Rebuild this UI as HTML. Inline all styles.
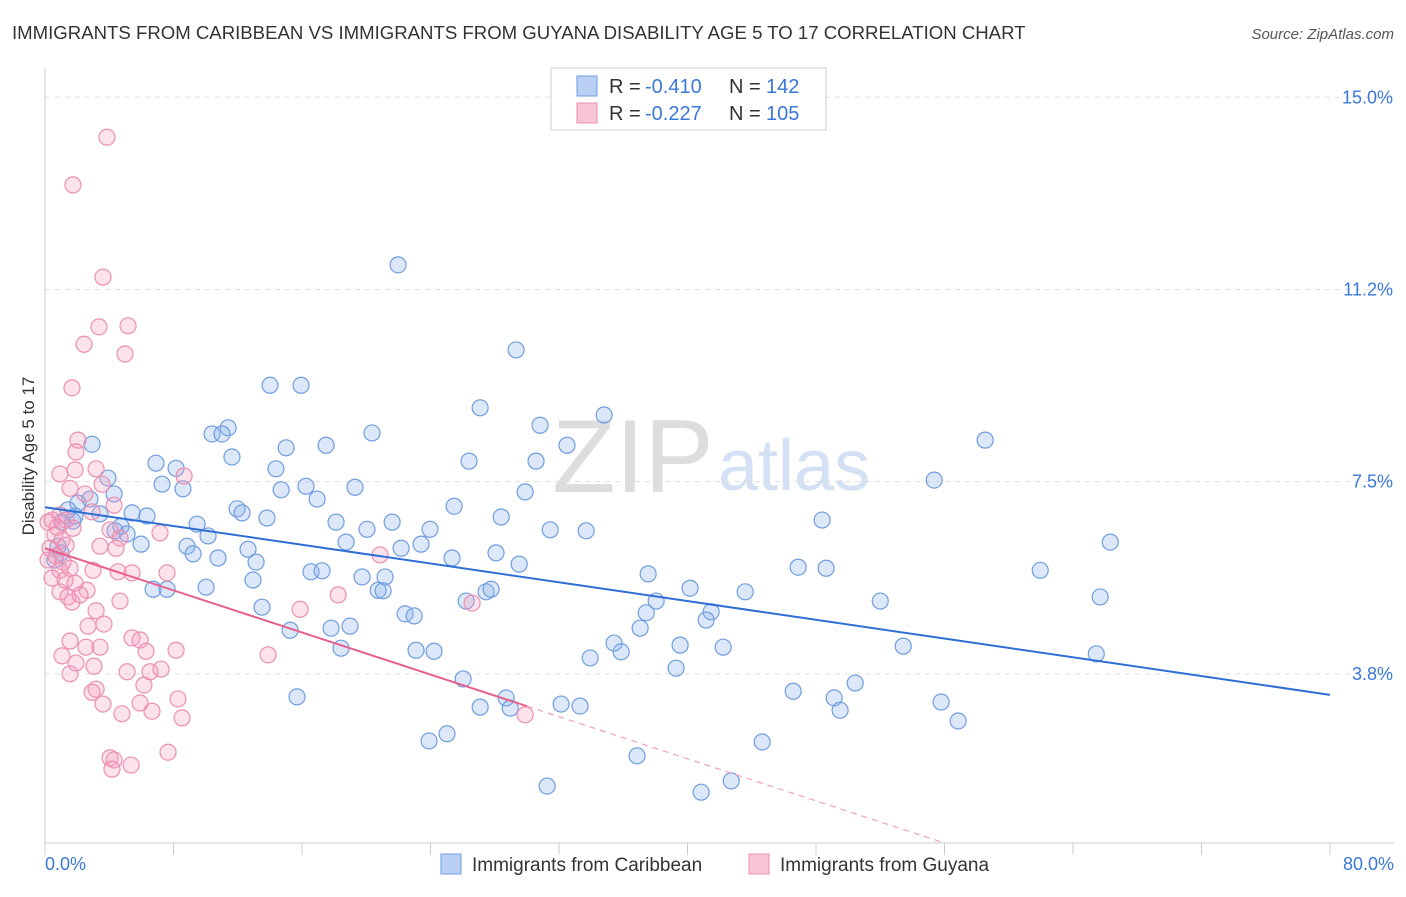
<!DOCTYPE html>
<html><head><meta charset="utf-8">
<style>
body{margin:0;background:#fff;font-family:"Liberation Sans",sans-serif;}
svg text{font-family:"Liberation Sans",sans-serif;}
</style></head>
<body>
<svg id="chart" width="1406" height="892" xmlns="http://www.w3.org/2000/svg">
<text x="12" y="39" font-size="18.6" fill="#333">IMMIGRANTS FROM CARIBBEAN VS IMMIGRANTS FROM GUYANA DISABILITY AGE 5 TO 17 CORRELATION CHART</text>
<text x="1394" y="39" font-size="15" fill="#555" text-anchor="end" font-style="italic">Source: ZipAtlas.com</text>
<g>
<text x="552" y="492" font-size="104" fill="#ddd" font-family="Liberation Serif">ZIP</text>
<text x="718" y="490" font-size="72" fill="#d4e0f3">atlas</text>
</g>
<g id="grid"></g>
<g id="axes"></g>
<g id="marks"></g>
<g>
<rect x="551" y="68" width="275" height="62" fill="#fff" stroke="#ccc"/>
<rect x="577" y="76" width="20" height="20" fill="#b9d0f3" stroke="#6f9de0"/>
<text x="609" y="93" font-size="20" fill="#333">R =</text>
<text x="645" y="93" font-size="20" fill="#3a78d8">-0.410</text>
<text x="729" y="93" font-size="20" fill="#333">N =</text>
<text x="766" y="93" font-size="20" fill="#3a78d8">142</text>
<rect x="577" y="103" width="20" height="20" fill="#f8c5d6" stroke="#ec8fb0"/>
<text x="609" y="120" font-size="20" fill="#333">R =</text>
<text x="645" y="120" font-size="20" fill="#3a78d8">-0.227</text>
<text x="729" y="120" font-size="20" fill="#333">N =</text>
<text x="766" y="120" font-size="20" fill="#3a78d8">105</text>
</g>
<g>
<rect x="441" y="854" width="20" height="20" fill="#b9d0f3" stroke="#6f9de0"/>
<text x="472" y="871" font-size="19" fill="#333">Immigrants from Caribbean</text>
<rect x="749" y="854" width="20" height="20" fill="#f8c5d6" stroke="#ec8fb0"/>
<text x="780" y="871" font-size="19" fill="#333">Immigrants from Guyana</text>
</g>
<text transform="translate(34,456) rotate(-90)" font-size="17" fill="#333" text-anchor="middle">Disability Age 5 to 17</text>
</svg>
<script>
const blueX=[21.98,29.33,14.01,15.94,27.09,34.81,11.40,10.40,11.02,20.36,30.82,2.93,15.01,17.50,32.50,11.64,6.91,26.40,30.57,8.16,14.38,7.29,8.59,16.25,19.30,3.92,4.30,2.80,14.70,16.94,29.89,58.53,55.36,11.96,12.27,25.47,6.35,2.05,3.42,5.42,1.74,9.47,13.82,28.40,18.12,21.61,48.38,23.97,4.73,5.11,31.45,33.69,20.05,4.36,5.98,10.15,18.74,22.17,23.41,66.32,8.84,9.22,12.64,13.14,10.77,25.34,28.08,29.52,1.00,0.81,46.89,48.63,61.96,16.56,17.25,37.55,19.74,21.17,12.95,10.03,6.73,7.60,20.74,21.05,27.46,27.77,40.16,43.59,65.69,26.22,38.05,52.00,13.51,22.42,22.98,37.43,41.47,41.16,15.26,17.81,18.99,37.05,35.43,39.54,42.22,53.43,18.43,23.10,24.22,35.87,33.94,39.29,65.45,15.69,26.03,46.58,50.44,49.13,28.71,28.96,27.09,32.13,33.31,49.50,55.79,56.85,25.03,23.91,44.65,36.86,31.26,42.72,40.85,1.87,1.06,1.43,0.62];
const blueY=[11.73,10.07,9.38,9.38,8.94,8.80,8.55,8.43,8.43,8.45,8.60,8.23,8.16,8.21,8.21,7.98,7.86,7.90,7.90,7.76,7.75,7.45,7.36,7.41,7.39,7.57,7.26,7.16,7.34,7.16,7.30,8.31,7.53,6.97,6.89,7.02,6.83,7.08,6.87,6.89,6.73,6.67,6.79,6.81,6.71,6.71,6.75,6.57,6.63,6.48,6.56,6.54,6.57,6.54,6.28,6.44,6.32,6.20,6.28,6.32,6.24,6.09,6.18,5.93,6.01,6.01,6.11,5.89,6.11,6.24,5.83,5.81,5.77,5.74,5.76,5.70,5.64,5.64,5.58,5.44,5.40,5.40,5.38,5.37,5.35,5.40,5.42,5.35,5.25,5.17,5.17,5.17,5.05,4.92,4.88,4.94,4.96,4.80,4.60,4.64,4.68,4.64,4.35,4.31,4.27,4.29,4.25,4.21,4.19,4.18,4.06,3.86,4.14,3.30,3.65,3.41,3.57,3.28,3.28,3.08,3.10,3.16,3.12,3.04,3.20,2.83,2.58,2.44,2.42,2.15,1.56,1.66,1.44,6.83,6.71,6.95,5.97];
const pinkX=[3.86,1.74,3.61,3.36,5.17,2.43,4.98,1.68,2.05,1.93,0.93,3.18,1.87,3.55,8.66,1.56,2.49,4.30,2.93,0.93,1.31,0.44,0.75,0.19,0.62,1.74,4.05,4.67,1.06,1.31,0.31,3.42,7.16,4.42,0.68,0.19,1.12,20.86,0.93,1.56,2.99,4.55,5.42,0.44,1.25,1.87,2.62,7.60,0.93,1.43,2.18,1.68,4.67,18.25,15.88,26.59,3.18,2.68,3.67,1.56,5.42,5.92,8.16,2.55,6.29,3.42,13.89,1.06,1.93,3.05,1.56,5.11,6.54,7.22,3.18,2.93,6.16,8.28,3.61,5.92,6.66,4.79,8.53,29.89,4.05,4.30,5.36,4.17,7.66];
const pinkY=[14.22,13.29,11.49,10.52,10.54,10.18,9.99,9.33,8.31,8.08,7.65,7.75,7.73,7.45,7.61,7.37,7.26,7.04,6.91,6.85,6.75,6.75,6.61,6.71,6.46,6.59,6.56,6.40,6.36,6.26,6.20,6.24,6.50,6.20,6.05,5.97,5.93,6.07,5.77,5.81,5.77,5.74,5.72,5.62,5.58,5.52,5.38,5.72,5.35,5.25,5.29,5.15,5.17,5.29,5.01,5.13,4.98,4.68,4.72,4.39,4.45,4.41,4.21,4.27,4.19,4.27,4.12,4.10,3.96,3.90,3.75,3.79,3.79,3.84,3.45,3.39,3.53,3.26,3.16,3.18,3.02,2.97,2.89,2.95,2.11,2.07,1.97,1.89,2.22];
const blueTrend=[7.00,3.34];   // y at x=0, x=80
const pinkTrend=[6.20,-0.1027]; // intercept, slope
const pinkSolidEnd=30.0, pinkDashEnd=56.0;
const yTicks=[15.0,11.25,7.5,3.75];
const yTickLabels=["15.0%","11.2%","7.5%","3.8%"];
const xTicks=[0,8,16,24,32,40,48,56,64,72,80];

const NS="http://www.w3.org/2000/svg";
const X=v=>45+v*16.0625;
const Y=v=>866-v*51.25;
function mk(tag,attrs,parent){const e=document.createElementNS(NS,tag);for(const k in attrs)e.setAttribute(k,attrs[k]);parent.appendChild(e);return e;}
const grid=document.getElementById('grid'),axes=document.getElementById('axes'),marks=document.getElementById('marks');
yTicks.forEach((t,i)=>{
 const l=mk('line',{x1:45,x2:1394,y1:Y(t),y2:Y(t),stroke:'#ddd','stroke-dasharray':'5,5'},grid);
 
 
 const tx=mk('text',{x:1393,y:Y(t)+6,'font-size':18,fill:'#3a78d8','text-anchor':'end'},axes);
 tx.textContent=yTickLabels[i];
 
 
});
mk('line',{x1:45,x2:45,y1:68,y2:843,stroke:'#ccc'},axes);
mk('line',{x1:45,x2:1394,y1:843,y2:843,stroke:'#ccc'},axes);
xTicks.forEach(t=>{
 const l=mk('line',{x1:X(t),x2:X(t),y1:843,y2:855,stroke:'#ccc'},axes);
 
 
});
const x0=mk('text',{x:45,y:870,'font-size':18,fill:'#3a78d8'},axes);x0.textContent="0.0%";


const x1=mk('text',{x:1394,y:870,'font-size':18,fill:'#3a78d8','text-anchor':'end'},axes);x1.textContent="80.0%";



blueX.forEach((v,i)=>{
 const c=mk('circle',{cx:X(v),cy:Y(blueY[i]),r:8,fill:'rgba(140,180,235,0.3)',stroke:'#6f9de0','stroke-width':1.2},marks);
 
 
});
pinkX.forEach((v,i)=>{
 const c=mk('circle',{cx:X(v),cy:Y(pinkY[i]),r:8,fill:'rgba(245,160,190,0.3)',stroke:'#ec8fb0','stroke-width':1.2},marks);
 
 
});
const bl=mk('line',{x1:X(0),y1:Y(blueTrend[0]),x2:X(80),y2:Y(blueTrend[1]),stroke:'#2e6fd6','stroke-width':2},marks);


const pl=mk('line',{x1:X(0),y1:Y(pinkTrend[0]),x2:X(pinkSolidEnd),y2:Y(pinkTrend[0]+pinkTrend[1]*pinkSolidEnd),stroke:'#e8608e','stroke-width':2},marks);


const pd=mk('line',{x1:X(pinkSolidEnd),y1:Y(pinkTrend[0]+pinkTrend[1]*pinkSolidEnd),x2:X(pinkDashEnd),y2:Y(pinkTrend[0]+pinkTrend[1]*pinkDashEnd),stroke:'#f0a0bc','stroke-width':1.2,'stroke-dasharray':'6,5'},marks);


</script>
</body></html>
